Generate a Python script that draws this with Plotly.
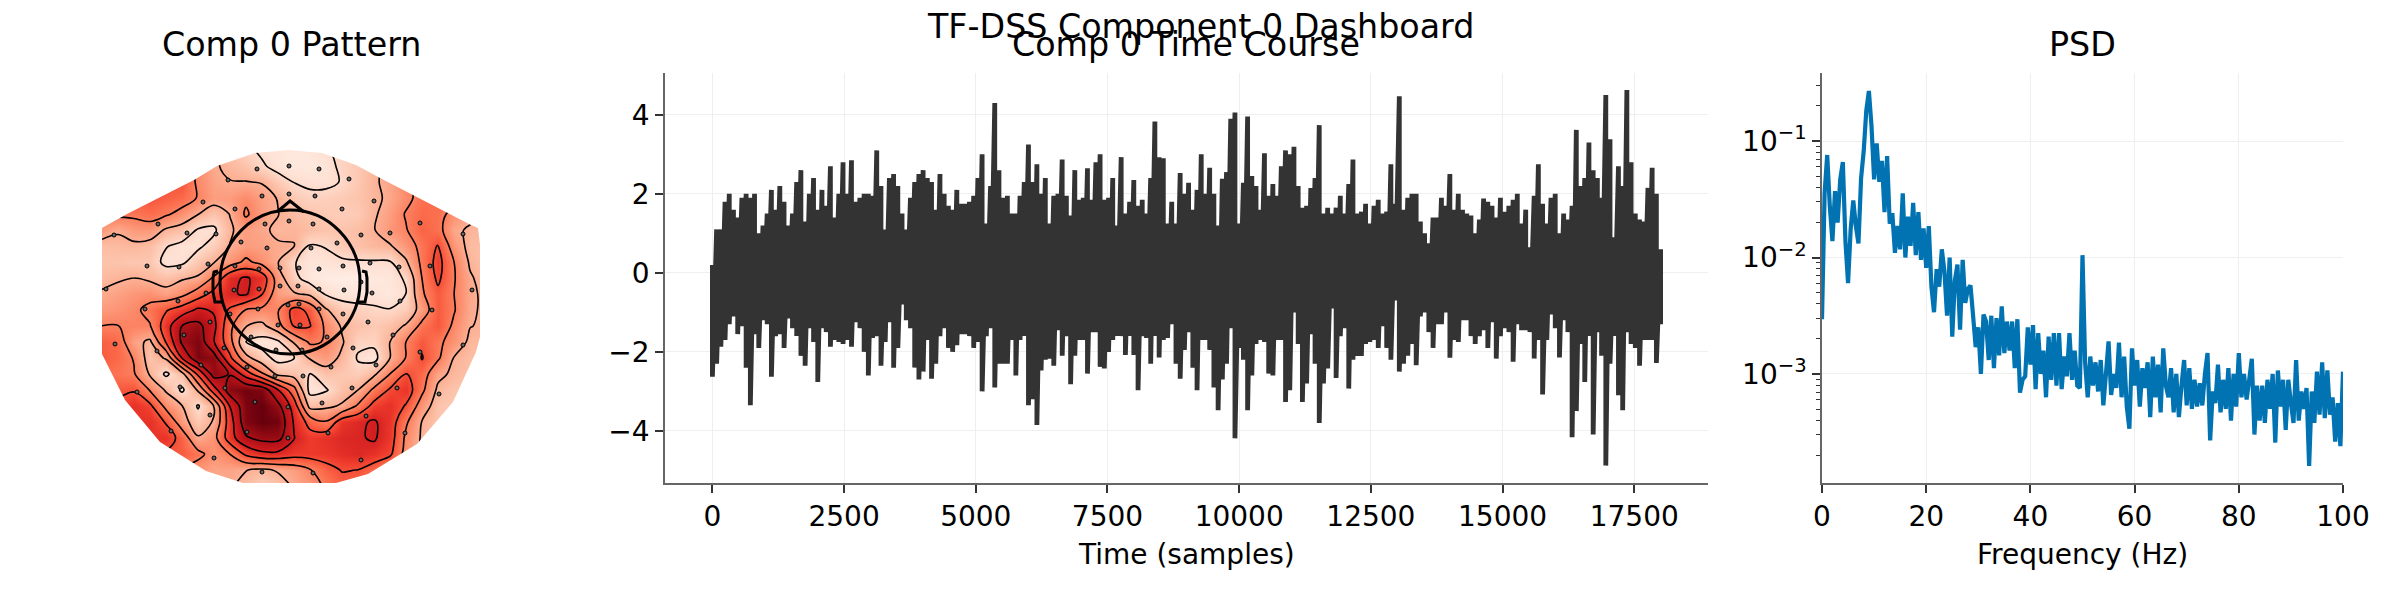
"""TF-DSS component dashboard: topomap, time course and PSD."""
import numpy as np
from plotly.graph_objs import Contour, Figure, Heatmap, Scatter

FONT = 'DejaVu Sans'
DARK_LINE = '#333333'
PSD_COLOUR = '#0173B2'
SPINE_COLOUR = '#666666'
GRID_COLOUR = '#EFEFEF'

# the browser keeps an 8 px margin round the body, so the figure is that much smaller
BODY_MARGIN = 8
FIG_WIDTH = 2400 - 2 * BODY_MARGIN
FIG_HEIGHT = 600 - 2 * BODY_MARGIN

# topomap values, hand read (0 = palest, 10 = darkest), one row per topo_y
topo_x = [102, 118, 134, 150, 166, 182, 198, 214, 230, 246, 262, 278, 294,
          310, 326, 342, 358, 374, 390, 406, 422, 438, 454, 470, 486]
topo_y = [150, 166, 182, 198, 214, 230, 246, 262, 278, 294, 310,
          326, 342, 358, 374, 390, 406, 422, 438, 454, 470, 486]
topo_z = [
    [5.6, 5.6, 5.6, 5.6, 5.6, 5.6, 5.0, 4.2, 2.2, 1.7, 1.2, 0.9, 0.8, 0.9, 1.3, 1.7, 2.0, 2.4, 3.5, 4.0, 4.0, 4.0, 4.0, 4.0, 4.0],
    [5.6, 5.6, 5.6, 5.6, 5.6, 5.2, 4.0, 3.0, 2.6, 2.2, 1.6, 1.0, 0.8, 0.8, 1.0, 1.7, 2.0, 2.6, 3.2, 4.0, 4.5, 4.5, 4.5, 4.5, 4.5],
    [5.6, 5.6, 5.6, 5.6, 5.6, 5.6, 4.0, 3.2, 2.9, 2.9, 2.8, 2.0, 1.4, 1.2, 1.15, 1.5, 2.1, 2.7, 3.2, 4.0, 4.8, 4.8, 4.8, 4.8, 4.8],
    [5.6, 5.6, 5.6, 5.6, 5.3, 5.0, 4.2, 3.4, 3.5, 4.0, 3.3, 2.8, 2.0, 1.7, 1.8, 2.0, 2.2, 2.6, 3.1, 3.9, 4.8, 5.0, 5.0, 5.0, 5.0],
    [4.6, 4.6, 4.6, 4.9, 4.5, 3.8, 2.9, 2.2, 2.9, 4.5, 3.4, 2.9, 2.4, 2.2, 2.0, 1.9, 2.0, 2.7, 3.4, 4.4, 5.0, 4.8, 3.8, 3.2, 3.0],
    [3.5, 3.0, 3.5, 3.6, 2.7, 2.3, 1.3, 1.2, 2.7, 3.4, 3.1, 2.6, 2.7, 2.4, 2.2, 2.2, 2.4, 2.8, 3.6, 4.2, 5.2, 4.8, 3.1, 2.7, 2.6],
    [2.4, 2.5, 2.6, 2.4, 1.5, 1.1, 1.2, 1.9, 2.9, 3.4, 3.3, 3.0, 2.9, 1.3, 1.5, 2.0, 2.3, 2.6, 2.75, 3.6, 4.7, 5.8, 3.6, 2.5, 2.3],
    [2.2, 2.2, 2.1, 2.1, 1.1, 1.2, 2.1, 2.8, 3.6, 4.6, 3.8, 2.9, 1.5, 1.0, 1.1, 1.25, 1.3, 1.3, 1.35, 2.7, 4.6, 6.2, 4.3, 2.7, 2.2],
    [2.5, 2.7, 2.86, 2.6, 2.3, 2.7, 3.0, 4.5, 6.8, 7.3, 6.6, 3.5, 1.8, 0.8, 0.6, 0.5, 0.5, 0.8, 0.9, 1.6, 4.3, 6.0, 4.4, 3.0, 2.4],
    [3.0, 3.3, 3.6, 3.8, 3.3, 3.9, 5.0, 6.2, 7.0, 7.3, 5.8, 3.4, 3.0, 2.6, 1.3, 1.0, 0.9, 1.0, 0.8, 1.4, 4.1, 5.4, 4.3, 3.1, 2.6],
    [3.5, 3.7, 4.0, 4.7, 5.6, 6.4, 7.4, 7.0, 5.5, 4.2, 4.0, 4.2, 6.2, 5.4, 3.0, 2.0, 1.8, 1.6, 1.5, 1.9, 3.4, 5.4, 4.4, 3.0, 2.7],
    [4.3, 4.3, 4.2, 4.2, 6.5, 8.6, 9.0, 7.5, 4.6, 2.9, 2.5, 3.8, 5.8, 5.8, 4.0, 2.7, 2.3, 2.0, 2.3, 3.0, 4.7, 5.5, 4.0, 2.9, 2.7],
    [5.3, 5.0, 3.3, 2.6, 5.8, 8.8, 9.6, 7.2, 4.8, 1.4, 0.9, 1.2, 3.0, 4.5, 4.2, 3.0, 1.7, 1.7, 2.86, 4.3, 5.5, 4.6, 3.7, 2.6, 2.5],
    [5.4, 5.0, 4.2, 2.2, 3.0, 7.2, 9.6, 9.2, 6.0, 3.3, 2.0, 1.0, 1.4, 3.0, 3.5, 2.6, 1.3, 1.0, 2.86, 4.35, 5.8, 4.5, 2.8, 2.4, 2.3],
    [5.0, 4.7, 4.4, 2.7, 1.2, 2.4, 6.0, 9.2, 8.5, 6.5, 4.5, 2.5, 2.3, 1.4, 2.3, 2.1, 1.9, 2.6, 4.3, 5.8, 5.0, 3.2, 2.6, 2.3, 2.2],
    [5.6, 5.5, 5.6, 4.2, 2.7, 1.2, 3.0, 6.5, 9.3, 9.8, 9.5, 7.2, 4.8, 1.0, 1.3, 2.3, 2.86, 4.6, 5.9, 6.5, 4.6, 2.6, 2.2, 2.1, 2.0],
    [6.0, 6.0, 6.6, 6.0, 3.9, 2.9, 1.3, 2.9, 7.2, 9.6, 10.0, 9.0, 6.5, 2.4, 2.6, 3.0, 4.5, 6.2, 6.6, 5.6, 3.6, 2.2, 2.0, 2.0, 2.0],
    [6.5, 6.5, 6.5, 6.6, 5.6, 3.5, 2.0, 3.0, 6.5, 9.5, 10.0, 9.8, 7.0, 5.2, 4.4, 6.5, 6.9, 7.3, 6.5, 4.5, 2.8, 2.2, 2.0, 2.0, 2.0],
    [6.5, 6.5, 6.5, 6.5, 6.5, 5.2, 3.0, 3.8, 6.5, 8.4, 9.0, 9.0, 7.2, 6.3, 6.6, 6.9, 7.0, 7.3, 6.4, 4.0, 2.7, 2.2, 2.0, 2.0, 2.0],
    [5.5, 5.5, 5.5, 5.5, 5.5, 5.4, 4.7, 3.7, 4.3, 6.0, 6.8, 6.8, 6.3, 6.3, 6.4, 6.7, 6.9, 6.6, 6.0, 3.7, 2.6, 2.2, 2.0, 2.0, 2.0],
    [4.0, 4.0, 4.0, 4.0, 4.0, 4.0, 3.6, 3.2, 3.2, 2.9, 2.6, 3.0, 3.4, 4.2, 5.2, 5.8, 5.7, 5.0, 4.0, 3.0, 2.4, 2.0, 2.0, 2.0, 2.0],
    [3.0, 3.0, 3.0, 3.0, 3.0, 3.0, 3.0, 3.0, 3.0, 2.4, 1.8, 2.2, 3.0, 3.6, 4.5, 5.2, 5.0, 4.2, 3.5, 2.5, 2.0, 2.0, 2.0, 2.0, 2.0],
]

# outline of the interpolated area, anticlockwise on screen
outline_x = [102, 102, 125, 160, 206, 243, 336, 368, 417, 453, 476, 480, 480, 478, 471, 380, 356, 322, 289, 255, 217, 194, 127, 102]
outline_y = [228, 354, 400, 442, 471, 483, 483, 474, 444, 402, 352, 337, 245, 228, 225, 178, 165, 153, 150, 153, 166, 180, 214, 228]

sensor_x = [257, 228, 289, 289, 262, 203, 235, 265, 289, 114, 158, 187, 216, 241, 267, 147, 179, 208, 235, 259, 280,
            106, 206, 234, 259, 280, 178, 145, 258, 288, 230, 319, 349, 315, 342, 374, 313, 361, 390, 420, 463, 337,
            311, 370, 399, 299, 319, 343, 430, 361, 372, 298, 319, 344, 400, 472, 432, 299, 319, 343, 115, 157, 184,
            210, 224, 201, 247, 275, 251, 276, 278, 137, 180, 225, 255, 210, 288, 171, 247, 288, 214, 262, 368, 300,
            327, 393, 353, 302, 463, 420, 331, 376, 303, 352, 397, 439, 322, 366, 328, 405, 361, 313]
sensor_y = [169, 180, 166, 194, 196, 202, 209, 224, 221, 235, 224, 233, 234, 242, 248, 266, 267, 264, 266, 269, 268,
            289, 293, 290, 289, 286, 301, 309, 309, 305, 314, 169, 179, 196, 209, 201, 224, 235, 233, 223, 234, 243,
            248, 263, 267, 268, 269, 266, 266, 282, 293, 286, 289, 290, 301, 290, 310, 304, 309, 314, 344, 351, 335,
            322, 348, 365, 367, 376, 337, 350, 325, 392, 387, 388, 402, 415, 407, 431, 432, 438, 458, 472, 322, 325,
            337, 335, 348, 350, 345, 352, 367, 365, 376, 388, 388, 394, 403, 416, 433, 433, 460, 473]

nose_x = [277, 290, 304]
nose_y = [212, 201, 212]
left_ear_x = [218, 214, 213, 213, 215, 222]
right_ear_x = [362, 366, 367, 367, 365, 358]
ear_y = [271, 272, 278, 292, 302, 302]

# time course: extremes per 80 samples
time_step = 80
time_upper = [
    0.2, 1.1, 1.1, 1.8, 2.0, 1.6, 1.4, 1.9, 2.0, 1.9, 2.0, 1.0, 1.2, 1.5, 2.1, 1.6, 2.2, 1.8, 1.2, 1.5,
    2.3, 2.6, 1.3, 2.0, 2.4, 1.6, 2.1, 1.7, 2.7, 1.4, 2.0, 2.8, 2.0, 2.85, 1.8, 1.9, 2.0, 2.0, 1.95, 3.1,
    2.2, 1.1, 2.4, 2.5, 2.2, 1.5, 1.1, 1.9, 2.3, 2.5, 2.6, 2.4, 2.3, 1.6, 2.5, 2.0, 1.7, 1.6, 2.1, 1.75,
    1.75, 1.8, 1.95, 2.4, 3.0, 1.25, 2.2, 4.3, 2.6, 1.9, 1.95, 1.5, 1.5, 1.95, 2.3, 3.25, 2.3, 2.75, 2.0, 2.4,
    1.25, 1.95, 2.0, 2.87, 1.95, 1.45, 2.6, 1.85, 1.9, 2.65, 1.85, 2.8, 3.0, 1.85, 1.9, 2.4, 1.2, 2.93, 1.5, 1.8,
    2.35, 1.7, 1.85, 1.5, 2.4, 3.83, 2.93, 2.9, 1.25, 1.8, 1.25, 2.53, 2.0, 2.28, 1.6, 2.1, 3.0, 2.0, 2.66,
    2.0, 1.2, 2.38, 2.55, 3.9, 4.06, 1.25, 2.28, 3.96, 2.45, 2.2, 1.6, 3.03, 1.95, 2.25, 1.95, 2.7, 3.1, 3.0, 3.19,
    2.2, 1.65, 1.7, 2.15, 2.4, 3.74, 1.5, 1.65, 1.5, 1.65, 1.95, 1.5, 2.25, 2.87, 1.5, 1.55, 1.75, 1.25, 1.7, 1.85,
    1.5, 1.55, 2.75, 1.75, 4.47, 1.6, 1.9, 2.0, 2.0, 1.3, 1.0, 0.75, 1.4, 1.4, 1.9, 1.7, 2.5, 1.6, 2.0,
    1.6, 1.5, 1.45, 1.0, 1.35, 1.88, 1.8, 1.7, 1.4, 1.9, 1.55, 1.7, 1.85, 2.0, 1.25, 1.6, 0.65, 1.95, 2.75, 1.75,
    1.25, 1.9, 2.0, 1.0, 1.5, 1.35, 1.7, 3.62, 2.2, 2.4, 3.3, 2.6, 2.4, 1.9, 4.5, 3.38, 0.9, 2.7, 2.2, 4.63,
    2.8, 1.5, 1.35, 1.3, 2.15, 2.66, 2.0, 0.6,
]
time_lower = [
    -2.63, -2.3, -1.87, -1.7, -1.3, -1.1, -1.55, -1.35, -2.4, -3.35, -1.55, -1.9, -1.2, -1.3, -2.63, -1.6, -1.55, -1.9, -1.15, -1.4,
    -1.6, -2.1, -2.35, -1.4, -1.75, -2.76, -1.4, -1.5, -1.87, -1.7, -1.75, -1.8, -1.7, -1.87, -1.25, -1.4, -2.0, -2.6, -1.65, -1.6,
    -2.35, -1.75, -1.25, -2.4, -1.9, -0.8, -1.2, -1.4, -2.4, -2.7, -2.5, -1.7, -2.68, -2.3, -1.6, -1.4, -1.9, -2.0, -1.83, -1.55,
    -1.55, -1.6, -1.9, -1.75, -3.0, -1.6, -1.4, -2.9, -2.3, -2.3, -2.3, -1.7, -2.6, -1.7, -1.6, -3.35, -3.2, -3.85, -2.47, -2.2,
    -2.17, -2.35, -1.45, -2.1, -1.6, -2.82, -2.1, -1.7, -1.7, -2.55, -1.5, -1.5, -2.38, -2.42, -2.0, -1.7, -1.6, -1.6, -2.08, -1.6,
    -2.08, -2.97, -1.6, -1.65, -2.3, -1.6, -2.14, -1.7, -1.65, -1.3, -2.3, -2.68, -1.95, -1.5, -2.4, -2.97, -1.7, -1.7, -1.95,
    -2.9, -3.48, -2.7, -2.3, -1.4, -4.19, -1.9, -2.2, -3.48, -2.6, -1.8, -1.7, -1.75, -2.55, -2.6, -1.7, -1.7, -3.27, -2.97, -1.0,
    -1.8, -3.27, -2.8, -1.55, -2.3, -3.8, -2.8, -2.42, -0.9, -2.66, -1.6, -1.4, -2.93, -2.2, -2.1, -2.1, -1.8, -1.75, -1.7, -1.9,
    -1.35, -1.9, -2.2, -0.7, -2.5, -2.3, -2.1, -1.8, -2.34, -1.1, -1.0, -1.5, -1.9, -1.3, -1.3, -1.0, -2.15, -1.7, -1.75,
    -1.2, -1.2, -1.6, -1.8, -1.6, -1.45, -1.9, -1.25, -2.17, -1.6, -1.4, -1.5, -2.25, -1.3, -1.45, -1.45, -1.5, -2.17, -1.7, -3.08,
    -1.7, -1.05, -1.4, -2.14, -1.2, -1.5, -4.16, -3.5, -1.8, -2.76, -1.6, -4.09, -1.5, -2.1, -4.88, -2.3, -1.6, -3.1, -3.48, -1.5,
    -1.8, -1.9, -2.35, -1.7, -1.7, -1.7, -2.28, -1.3,
]
time_ticks = [0, 2500, 5000, 7500, 10000, 12500, 15000, 17500]
time_y_ticks = [-4, -2, 0, 2, 4]

# PSD, log10 of the power every 0.5 Hz
psd_step_hz = 0.5
psd_log10 = [
    -2.53, -1.45, -1.12, -1.56, -1.86, -1.43, -1.7, -1.33, -1.18, -1.86, -2.22, -1.76, -1.51, -1.73, -1.88, -1.32, -1.09, -0.74, -0.57, -0.87,
    -1.33, -1.02, -1.35, -1.17, -1.61, -1.13, -1.71, -1.62, -1.96, -1.73, -1.93, -1.45, -2.0, -1.65, -1.9, -1.53, -1.98, -1.61, -2.02, -1.75,
    -2.09, -1.73, -2.25, -2.47, -2.1, -2.25, -1.93, -2.12, -2.5, -2.0, -2.68, -2.2, -2.06, -2.62, -2.02, -2.39, -2.27, -2.24, -2.5, -2.77,
    -2.6, -3.0, -2.49, -2.55, -2.88, -2.5, -2.95, -2.52, -2.84, -2.42, -2.82, -2.55, -2.8, -2.55, -2.95, -2.53, -3.16, -3.05, -3.02, -2.6,
    -2.92, -2.58, -3.13, -2.65, -3.0, -2.8, -3.2, -2.68, -3.05, -2.65, -3.1, -2.65, -3.13, -2.85, -3.02, -2.65, -3.05, -2.8, -3.1, -3.12,
    -1.98, -2.9, -3.2, -2.85, -3.1, -2.9, -3.15, -2.88, -3.27, -3.0, -2.72, -3.18, -3.0, -3.12, -2.73, -3.2, -2.85, -3.28, -3.47, -2.78,
    -3.1, -2.88, -3.28, -2.95, -3.12, -2.9, -3.37, -2.85, -3.2, -2.92, -3.33, -2.78, -3.1, -3.2, -2.95, -3.33, -3.0, -3.37, -3.1, -2.88,
    -3.27, -2.95, -3.3, -3.05, -3.28, -3.08, -3.27, -3.0, -2.82, -3.57, -3.15, -3.25, -2.92, -3.33, -3.05, -3.3, -2.95, -3.4, -3.0, -3.28,
    -2.82, -3.2, -3.0, -3.22, -3.05, -2.87, -3.52, -3.1, -3.4, -3.1, -3.42, -3.05, -3.3, -3.0, -3.59, -2.97, -3.28, -3.05, -3.48, -3.05,
    -3.25, -3.42, -2.88, -3.4, -3.15, -3.3, -3.12, -3.79, -3.15, -3.42, -2.98, -3.35, -2.9, -3.38, -2.97, -3.35, -3.2, -3.58, -3.25, -3.62, -2.98,
]
psd_ticks = [0, 20, 40, 60, 80, 100]
psd_y_ticks = [1e-3, 1e-2, 1e-1]
psd_y_minor = [2e-4, 3e-4, 4e-4, 5e-4, 6e-4, 7e-4, 8e-4, 9e-4,
               2e-3, 3e-3, 4e-3, 5e-3, 6e-3, 7e-3, 8e-3, 9e-3,
               2e-2, 3e-2, 4e-2, 5e-2, 6e-2, 7e-2, 8e-2, 9e-2,
               2e-1, 3e-1]


def paper_x(x: float) -> float:
    """Return the paper position of page pixel x."""
    return (x - BODY_MARGIN) / FIG_WIDTH


def paper_y(y: float) -> float:
    """Return the paper position of page pixel y, counted from the top."""
    return 1 - (y - BODY_MARGIN) / FIG_HEIGHT


def axis_style(**kwargs) -> dict:
    """Return the shared look of the two line plot axes."""
    style = dict(showline=True, linecolor=SPINE_COLOUR, linewidth=1.5, mirror=False,
                 showgrid=True, gridcolor=GRID_COLOUR, gridwidth=1, zeroline=False,
                 ticks='outside', ticklen=8, tickwidth=1.5, tickcolor=DARK_LINE,
                 tickfont={'family': FONT, 'size': 28, 'color': 'black'}, tickmode='array',
                 automargin=False)
    style.update(kwargs)
    return style


def label(text: str, x: float, y: float, size: float) -> dict:
    """Return an annotation centred on page pixel (x, y)."""
    return dict(text=text, x=paper_x(x), y=paper_y(y),
                xref='paper', yref='paper', showarrow=False,
                xanchor='center', yanchor='middle',
                font={'family': FONT, 'size': size, 'color': 'black'})


mask_x = [60, 540, 540, 60, 60] + outline_x + [60]
mask_y = [60, 60, 560, 560, 228] + outline_y + [228]

head_traces = [
    Scatter(x=nose_x, y=nose_y, mode='lines', line={'color': 'black', 'width': 3}),
    Scatter(x=left_ear_x, y=ear_y, mode='lines', line={'color': 'black', 'width': 3}),
    Scatter(x=right_ear_x, y=ear_y, mode='lines', line={'color': 'black', 'width': 3}),
]

time_x = np.repeat(np.arange(len(time_upper)) * time_step, 2)
time_y = np.column_stack((time_upper, time_lower)).ravel()
psd_x = np.arange(len(psd_log10)) * psd_step_hz
psd_y = 10.0 ** np.array(psd_log10)

fig = Figure(data=[
    Heatmap(x=topo_x, y=topo_y, z=topo_z, colorscale='Reds', zmin=0, zmax=10,
            zsmooth='best', showscale=False),
    Contour(x=topo_x, y=topo_y, z=topo_z, showscale=False,
            contours={'coloring': 'none', 'start': 1.43, 'end': 8.58, 'size': 1.43},
            line={'color': 'black', 'width': 1.6, 'smoothing': 1.0}),
    Scatter(x=mask_x, y=mask_y, mode='lines', fill='toself', fillcolor='white',
            line={'width': 0}),
    Scatter(x=sensor_x, y=sensor_y, mode='markers',
            marker={'size': 4, 'color': '#666666', 'line': {'color': 'black', 'width': 1}}),
    *head_traces,
    Scatter(x=time_x, y=time_y, mode='lines', xaxis='x2', yaxis='y2',
            line={'color': DARK_LINE, 'width': 4.8, 'simplify': False}),
    Scatter(x=psd_x, y=psd_y, mode='lines', xaxis='x3', yaxis='y3',
            line={'color': PSD_COLOUR, 'width': 4.2, 'simplify': False}),
])

fig.update_layout(
    width=FIG_WIDTH, height=FIG_HEIGHT, showlegend=False,
    margin={'l': 0, 'r': 0, 't': 0, 'b': 0, 'autoexpand': False},
    paper_bgcolor='white', plot_bgcolor='white',
    xaxis=dict(domain=[paper_x(60), paper_x(540)], range=[60, 540], visible=False, automargin=False),
    yaxis=dict(domain=[paper_y(560), paper_y(60)], range=[560, 60], visible=False, automargin=False),
    xaxis2=axis_style(domain=[paper_x(665), paper_x(1708)], range=[-900, 18900], anchor='y2',
                      tickvals=time_ticks, ticktext=[str(t) for t in time_ticks]),
    yaxis2=axis_style(domain=[paper_y(483), paper_y(73)], range=[-5.32, 5.06], anchor='x2',
                      tickvals=time_y_ticks),
    xaxis3=axis_style(domain=[paper_x(1822), paper_x(2343)], range=[0, 100], anchor='y3',
                      tickvals=psd_ticks, ticktext=[str(t) for t in psd_ticks]),
    yaxis3=axis_style(domain=[paper_y(483), paper_y(73)], range=[-3.936, -0.416], anchor='x3',
                      type='log', tickvals=psd_y_ticks,
                      ticktext=['10<sup>\u22123</sup>', '10<sup>\u22122</sup>', '10<sup>\u22121</sup>'],
                      minor={'tickvals': psd_y_minor, 'ticks': 'outside', 'ticklen': 4,
                             'tickwidth': 1, 'tickcolor': DARK_LINE, 'showgrid': False}),
    annotations=[
        label('Comp 0 Pattern', 291, 44, 33.3),
        label('Comp 0 Time Course', 1186, 44, 33.3),
        label('PSD', 2082, 44, 33.3),
        label('TF-DSS Component 0 Dashboard', 1200, 26, 33.3),
        label('Time (samples)', 1186, 554, 28),
        label('Frequency (Hz)', 2082, 554, 28),
    ],
    shapes=[dict(type='circle', xref='x', yref='y', x0=220, x1=360, y0=210, y1=354,
                 line={'color': 'black', 'width': 3})],
)

fig.write_html("out.html")
